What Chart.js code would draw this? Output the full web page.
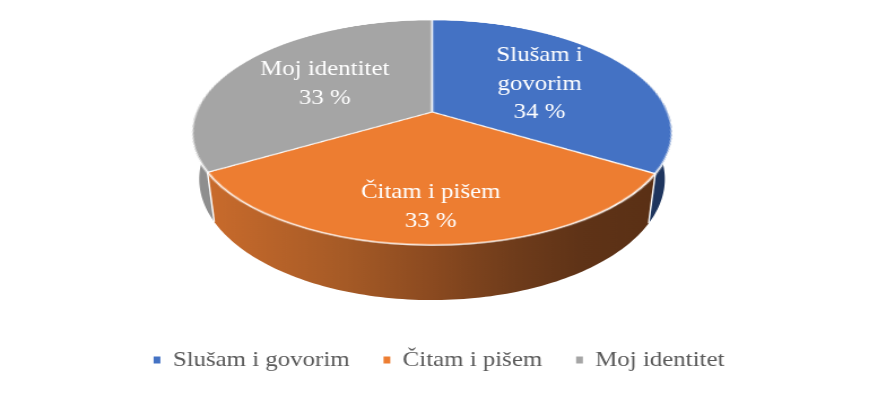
<!DOCTYPE html>
<html>
<head>
<meta charset="utf-8">
<script src="https://cdn.jsdelivr.net/npm/chart.js@4/dist/chart.umd.min.js"></script>
<style>
  html, body { margin: 0; padding: 0; background: #ffffff; }
  canvas { display: block; }
</style>
</head>
<body>
<canvas id="c" width="769" height="394" style="width:869px;height:394px;"></canvas>
<script>
// ---- data ----
const categories = ['Slušam i govorim', 'Čitam i pišem', 'Moj identitet'];
const shares = [33.6, 33.0, 33.4];
const sliceColors = ['#4472C4', '#ED7D31', '#A5A5A5'];
const wallColors = ['#1E355E', 'gradient', '#8E8E8E'];

// ---- layout / style constants ----
const SX = 869 / 769;                 // horizontal stretch of the canvas on screen
const view = {                        // 3D view of the pie (screen px -> canvas px)
  cx: 432 / SX, cy: 112, A: 236 / SX, B: 108.8, k: 0.1822,
  depth: 45, bottomScale: 0.97
};
const labelRadius = [0.55, 0.75, 0.55];
const labelFont = "22px 'Liberation Serif', 'Times New Roman', serif";
const labelLineHeight = 28.5;

const total = shares.reduce((a, b) => a + b, 0);
const pctText = v => Math.round(v / total * 100) + ' %';

function project(u, v) {
  const w = 1 - view.k * v;
  return { x: view.cx + view.A * u / w, y: view.cy + view.B * v / w, w };
}
function topRim(a) { return project(Math.cos(a), Math.sin(a)); }
function bottomRim(a) {
  const p = topRim(a);
  return { x: view.cx + (p.x - view.cx) * view.bottomScale, y: p.y + view.depth / p.w };
}
function wrap(ctx, text, maxW) {
  const words = text.split(' ');
  const lines = [];
  let cur = '';
  words.forEach(wd => {
    const t = cur ? cur + ' ' + wd : wd;
    if (cur && ctx.measureText(t).width > maxW) { lines.push(cur); cur = wd; }
    else cur = t;
  });
  if (cur) lines.push(cur);
  return lines;
}

const pie3d = {
  id: 'pie3d',
  afterDatasetsDraw(chart) {
    const ctx = chart.ctx;
    const arcs = chart.getDatasetMeta(0).data;
    if (!arcs.length) return;
    const R = arcs[0].outerRadius, sx = arcs[0].x, sy = arcs[0].y;
    const pad = 3;
    const ox = Math.floor(sx - R - pad), oy = Math.floor(sy - R - pad);
    const size = Math.ceil(2 * (R + pad)) + 2;
    const off = document.createElement('canvas');
    off.width = size; off.height = size;
    const octx = off.getContext('2d');
    octx.drawImage(chart.canvas, ox, oy, size, size, 0, 0, size, size);
    const scx = sx - ox, scy = sy - oy;

    ctx.save();
    ctx.clearRect(0, 0, chart.width, chart.legend.top);

    // ---- side walls ----
    const vis0 = -0.3, vis1 = Math.PI + 0.3;
    const grad = ctx.createLinearGradient(207 / SX, 0, 657 / SX, 0);
    grad.addColorStop(0, '#C96B2C');
    grad.addColorStop(0.31, '#A55A26');
    grad.addColorStop(0.5, '#8B4A20');
    grad.addColorStop(0.68, '#6F3C1B');
    grad.addColorStop(0.83, '#5F3317');
    grad.addColorStop(1, '#5A3015');
    arcs.forEach((arc, i) => {
      const b0 = Math.max(arc.startAngle, vis0), b1 = Math.min(arc.endAngle, vis1);
      if (b1 <= b0) return;
      const n = Math.max(2, Math.ceil((b1 - b0) / 0.02));
      ctx.beginPath();
      for (let j = 0; j <= n; j++) {
        const p = topRim(b0 + (b1 - b0) * j / n);
        if (j === 0) ctx.moveTo(p.x, p.y); else ctx.lineTo(p.x, p.y);
      }
      for (let j = n; j >= 0; j--) {
        const p = bottomRim(b0 + (b1 - b0) * j / n);
        ctx.lineTo(p.x, p.y);
      }
      ctx.closePath();
      ctx.fillStyle = wallColors[i] === 'gradient' ? grad : wallColors[i];
      ctx.fill();
    });
    // separators between walls
    ctx.strokeStyle = '#ffffff';
    ctx.lineWidth = 1.4;
    arcs.forEach(arc => {
      const a = arc.startAngle;
      if (a > 0 && a < Math.PI) {
        const p = topRim(a), q = bottomRim(a);
        ctx.beginPath(); ctx.moveTo(p.x, p.y); ctx.lineTo(q.x, q.y); ctx.stroke();
      }
    });

    // ---- top face: library-drawn pie re-projected in perspective ----
    ctx.imageSmoothingEnabled = true;
    ctx.imageSmoothingQuality = 'high';
    const lim = (R + pad) / R;
    const yTop = Math.floor(view.cy - view.B * lim / (1 + view.k * lim)) - 1;
    const yBot = Math.ceil(view.cy + view.B * lim / (1 - view.k * lim)) + 1;
    for (let yd = yTop; yd < yBot; yd++) {
      const d0 = yd - view.cy, d1 = yd + 1 - view.cy;
      let v0 = d0 / (view.B + view.k * d0), v1 = d1 / (view.B + view.k * d1);
      let sy0 = scy + v0 * R, sy1 = scy + v1 * R;
      sy0 = Math.max(0, sy0); sy1 = Math.min(size, sy1);
      if (sy1 <= sy0) continue;
      const w = 1 - view.k * (v0 + v1) / 2;
      const dx0 = view.cx + view.A * ((0 - scx) / R) / w;
      const dw = view.A * (size / R) / w;
      ctx.drawImage(off, 0, sy0, size, sy1 - sy0, dx0, yd, dw, 1);
    }

    // ---- data labels ----
    ctx.font = labelFont;
    ctx.fillStyle = '#ffffff';
    ctx.textAlign = 'center';
    ctx.textBaseline = 'middle';
    arcs.forEach((arc, i) => {
      const mid = (arc.startAngle + arc.endAngle) / 2;
      const r = labelRadius[i];
      const p = project(r * Math.cos(mid), r * Math.sin(mid));
      const lines = wrap(ctx, categories[i], 130).concat([pctText(shares[i])]);
      lines.forEach((ln, j) => {
        ctx.fillText(ln, p.x, p.y + (j - (lines.length - 1) / 2) * labelLineHeight);
      });
    });
    ctx.restore();
  }
};

Chart.defaults.font.family = "'Liberation Serif', 'Times New Roman', serif";

new Chart(document.getElementById('c'), {
  type: 'pie',
  data: {
    labels: categories,
    datasets: [{
      data: shares,
      backgroundColor: sliceColors,
      borderColor: '#ffffff',
      borderWidth: 1.3
    }]
  },
  options: {
    responsive: false,
    animation: false,
    events: [],
    layout: { padding: { left: 8, right: 0, top: 8, bottom: 13 } },
    plugins: {
      tooltip: { enabled: false },
      legend: {
        position: 'bottom',
        labels: {
          font: { size: 22, family: "'Liberation Serif', 'Times New Roman', serif" },
          color: '#595959',
          boxWidth: 6,
          boxHeight: 7,
          padding: 30,
          generateLabels(chart) {
            const items = Chart.overrides.pie.plugins.legend.labels.generateLabels(chart);
            items.forEach(it => { it.lineWidth = 0; it.strokeStyle = 'rgba(0,0,0,0)'; });
            return items;
          }
        }
      }
    }
  },
  plugins: [pie3d]
});
</script>
</body>
</html>
